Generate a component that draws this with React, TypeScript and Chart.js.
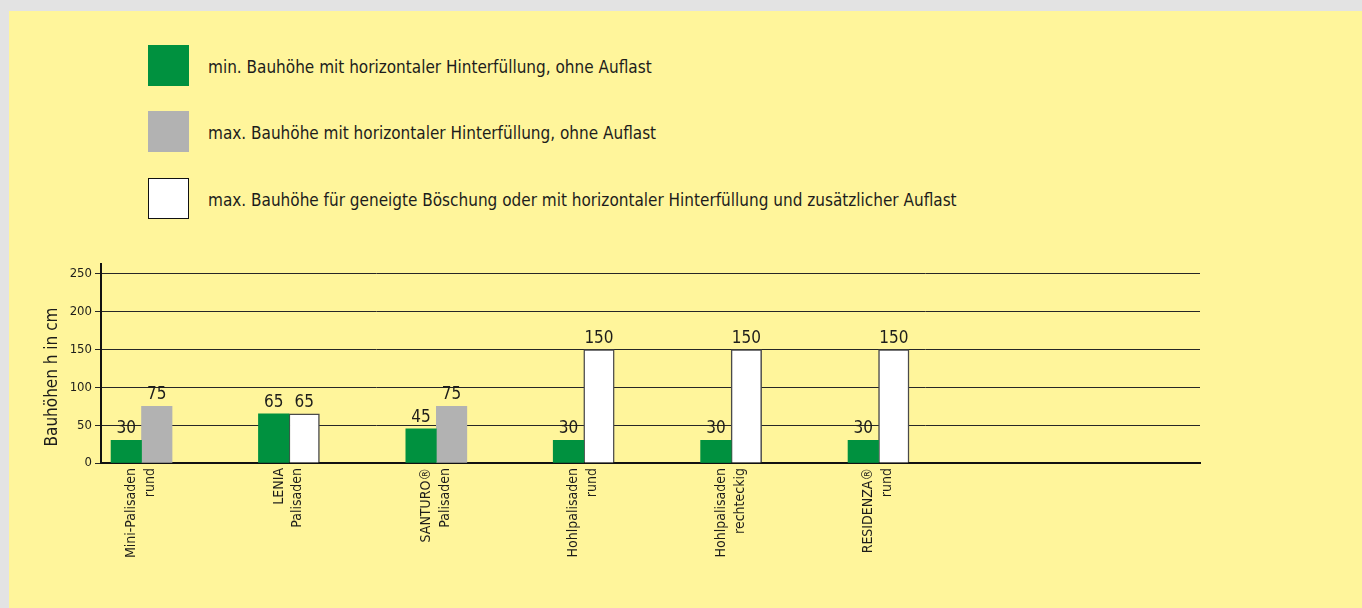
import React, { useEffect, useRef } from "react";
import { Chart, registerables } from "chart.js";

Chart.register(...registerables);

const FONT = '"Liberation Sans Narrow", "DejaVu Sans Condensed", "Arial Narrow", sans-serif';
const TEXT = "#1d1d1b";

const categories: string[][] = [
  ["Mini-Palisaden", "rund"],
  ["LENIA", "Palisaden"],
  ["SANTURO®", "Palisaden"],
  ["Hohlpalisaden", "rund"],
  ["Hohlpalisaden", "rechteckig"],
  ["RESIDENZA®", "rund"],
];

const seriesNames = [
  "min. Bauhöhe mit horizontaler Hinterfüllung, ohne Auflast",
  "max. Bauhöhe mit horizontaler Hinterfüllung, ohne Auflast",
  "max. Bauhöhe für geneigte Böschung oder mit horizontaler Hinterfüllung und zusätzlicher Auflast",
];

const minHeight: (number | null)[] = [30, 65, 45, 30, 30, 30];
const maxHorizontal: (number | null)[] = [75, null, 75, null, null, null];
const maxSloped: (number | null)[] = [null, 65, null, 150, 150, 150];

const yTicks = [0, 50, 100, 150, 200, 250];
const yTitle = "Bauhöhen h in cm";

const colors = ["#00913f", "#b2b2b2", "#ffffff"];
const borders = ["#00913f", "#b2b2b2", "#4a4a4a"];

const valueLabels = {
  id: "valueLabels",
  afterDatasetsDraw(chart: any) {
    const ctx = chart.ctx;
    ctx.save();
    ctx.font = `17px ${FONT}`;
    ctx.fillStyle = TEXT;
    ctx.textAlign = "center";
    ctx.textBaseline = "alphabetic";
    chart.data.datasets.forEach((ds: any, di: number) => {
      const meta = chart.getDatasetMeta(di);
      meta.data.forEach((el: any, i: number) => {
        const v = ds.data[i]?.y;
        if (v === null || v === undefined) return;
        ctx.fillText(String(v), el.x, el.y - 7);
      });
    });
    ctx.restore();
  },
};

const yAxisTitle = {
  id: "yAxisTitle",
  afterDraw(chart: any) {
    const ctx = chart.ctx;
    const area = chart.chartArea;
    ctx.save();
    ctx.font = `17px ${FONT}`;
    ctx.fillStyle = TEXT;
    ctx.textAlign = "center";
    ctx.textBaseline = "middle";
    ctx.translate(area.left - 48, area.bottom - 86);
    ctx.rotate(-Math.PI / 2);
    ctx.fillText(yTitle, 0, 0);
    ctx.restore();
  },
};

function toPoints(arr: (number | null)[]) {
  return arr.map((v, i) => ({ x: i, y: v }));
}

export default function App() {
  const ref = useRef<HTMLCanvasElement | null>(null);

  useEffect(() => {
    if (!ref.current) return;
    const series = [minHeight, maxHorizontal, maxSloped];
    const chart = new Chart(ref.current, {
      type: "bar",
      data: {
        datasets: series.map((s, i) => ({
          label: seriesNames[i],
          data: toPoints(s) as any,
          backgroundColor: colors[i],
          borderColor: borders[i],
          borderWidth: i === 2 ? 1.5 : 0,
          barThickness: 30.5,
          skipNull: true,
          grouped: true,
        })),
      },
      options: {
        animation: false,
        responsive: false,
        devicePixelRatio: 1,
        layout: { padding: { top: 34, right: 162, left: 0, bottom: 0 } },
        plugins: { legend: { display: false }, tooltip: { enabled: false } },
        scales: {
          x: {
            type: "linear",
            min: -0.275,
            max: 7.181,
            bounds: "data",
            offset: false,
            grid: { display: false, drawTicks: false, offset: false },
            border: { display: true, color: "#111", width: 2 },
            afterBuildTicks: (scale: any) => {
              scale.ticks = categories.map((_, i) => ({ value: i }));
            },
            afterFit: (scale: any) => {
              scale.height = 145;
            },
            ticks: {
              autoSkip: false,
              includeBounds: false,
              minRotation: 90,
              maxRotation: 90,
              padding: 5,
              labelOffset: -10,
              color: TEXT,
              font: { family: FONT, size: 14, lineHeight: 1.35 },
              callback: (_v: any, idx: number) => categories[idx] ?? "",
            },
          },
          y: {
            min: 0,
            max: 263,
            afterBuildTicks: (scale: any) => {
              scale.ticks = yTicks.map((v) => ({ value: v }));
            },
            afterFit: (scale: any) => {
              scale.width = 92;
            },
            grid: { color: "#262626", lineWidth: 1, tickLength: 6, drawTicks: true },
            border: { display: true, color: "#111", width: 2 },
            ticks: {
              padding: 3,
              color: TEXT,
              font: { family: FONT, size: 13 },
            },
            title: { display: false, text: yTitle },
          },
        },
      },
      plugins: [valueLabels, yAxisTitle],
    } as any);
    return () => chart.destroy();
  }, []);

  const boxTops = [45, 111, 178];

  return (
    <div
      style={{
        position: "fixed",
        left: 0,
        top: 0,
        width: 1362,
        height: 608,
        background: "#e3e3e3",
        overflow: "hidden",
        fontFamily: FONT,
      }}
    >
      <div
        style={{
          position: "absolute",
          left: 9,
          top: 11,
          right: 0,
          bottom: 0,
          background: "#fff59b",
        }}
      />
      {seriesNames.map((name, i) => (
        <React.Fragment key={i}>
          <div
            style={{
              position: "absolute",
              left: 148,
              top: boxTops[i],
              width: 41,
              height: 41,
              boxSizing: "border-box",
              background: colors[i],
              border: i === 2 ? "1px solid #111" : "none",
            }}
          />
          <div
            style={{
              position: "absolute",
              left: 208,
              top: boxTops[i] + 2,
              height: 41,
              lineHeight: "41px",
              fontSize: 17,
              color: TEXT,
              whiteSpace: "nowrap",
            }}
          >
            {name}
          </div>
        </React.Fragment>
      ))}
      <canvas
        ref={ref}
        width={1353}
        height={378}
        style={{ position: "absolute", left: 9, top: 230, width: 1353, height: 378 }}
      />
    </div>
  );
}
